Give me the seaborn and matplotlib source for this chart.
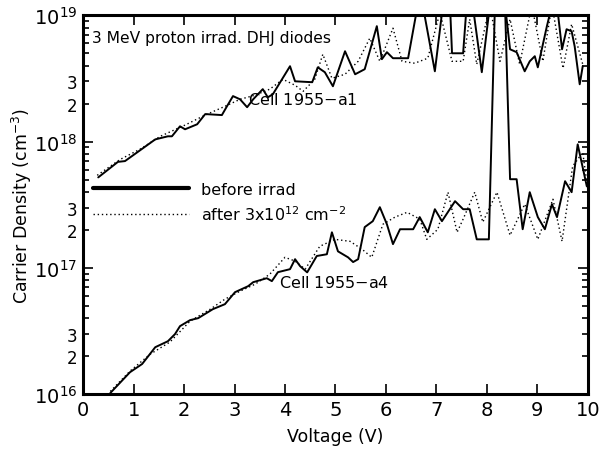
import numpy as np
import pandas as pd
import matplotlib
matplotlib.use("Agg")
import matplotlib.pyplot as plt
import matplotlib.ticker as mticker
import seaborn as sns

# Cell 1955-a1, before irradiation
volt_a1_before = [0.30, 0.69, 0.83, 1.07, 1.43, 1.68, 1.76, 1.92, 2.02, 2.26, 2.42, 2.75,
                  2.85, 2.97, 3.11, 3.25, 3.37, 3.56, 3.66, 3.76, 4.10, 4.20, 4.54, 4.65,
                  4.79, 4.95, 5.19, 5.39, 5.58, 5.82, 5.92, 6.02, 6.14, 6.44, 6.63, 6.73,
                  6.97, 7.13, 7.27, 7.31, 7.53, 7.60, 7.72, 7.90, 8.06, 8.36, 8.46, 8.59,
                  8.75, 8.85, 8.95, 9.01, 9.19, 9.29, 9.39, 9.49, 9.58, 9.68, 9.74, 9.84, 9.90]
dens_a1_before = [5.2e17, 6.9e17, 7.0e17, 8.2e17, 1.04e18, 1.10e18, 1.10e18, 1.32e18, 1.25e18,
                  1.37e18, 1.65e18, 1.62e18, 1.90e18, 2.29e18, 2.16e18, 1.87e18, 2.16e18,
                  2.60e18, 2.24e18, 2.37e18, 3.95e18, 3.0e18, 2.95e18, 3.87e18, 3.54e18,
                  2.74e18, 5.19e18, 3.41e18, 3.74e18, 8.2e18, 4.49e18, 5.10e18, 4.57e18,
                  4.57e18, 1.2e19, 1.2e19, 3.6e18, 1.2e19, 1.2e19, 5.0e18, 5.0e18, 1.2e19,
                  1.2e19, 3.54e18, 1.2e19, 1.2e19, 5.38e18, 5.1e18, 3.6e18, 4.32e18, 4.74e18,
                  3.87e18, 8.2e18, 1.2e19, 1.2e19, 5.38e18, 7.75e18, 7.47e18, 5.68e18,
                  2.84e18, 3.95e18]

# Cell 1955-a1, after 3x10^12 cm^-2
volt_a1_after = [0.28, 0.73, 1.13, 1.53, 2.02, 2.42, 2.81, 3.11, 3.41, 3.70, 3.96, 4.20,
                 4.36, 4.59, 4.75, 4.93, 5.19, 5.45, 5.68, 5.88, 6.14, 6.32, 6.57, 6.83,
                 7.07, 7.31, 7.53, 7.66, 7.80, 8.06, 8.26, 8.46, 8.65, 8.89, 9.11, 9.29,
                 9.51, 9.68, 9.90]
dens_a1_after = [5.4e17, 7.2e17, 8.7e17, 1.10e18, 1.35e18, 1.62e18, 1.90e18, 2.16e18, 2.33e18,
                 2.60e18, 3.11e18, 2.79e18, 2.50e18, 3.11e18, 4.91e18, 3.17e18, 3.41e18,
                 4.32e18, 6.58e18, 4.32e18, 7.9e18, 4.32e18, 4.17e18, 4.57e18, 1.05e19,
                 4.32e18, 4.32e18, 9.3e18, 4.09e18, 1.2e19, 4.32e18, 9.3e18, 4.09e18,
                 1.2e19, 4.32e18, 1.2e19, 3.8e18, 8.5e18, 4.09e18]

# Cell 1955-a4, before irradiation
volt_a4_before = [0.54, 0.93, 1.17, 1.43, 1.68, 1.82, 1.92, 2.12, 2.28, 2.57, 2.81, 3.01,
                  3.27, 3.37, 3.64, 3.74, 3.86, 4.10, 4.20, 4.30, 4.44, 4.63, 4.83, 4.93,
                  5.05, 5.25, 5.35, 5.45, 5.58, 5.74, 5.88, 6.02, 6.14, 6.28, 6.54, 6.67,
                  6.83, 6.97, 7.11, 7.37, 7.53, 7.66, 7.80, 8.04, 8.16, 8.36, 8.46, 8.59,
                  8.71, 8.85, 9.01, 9.15, 9.29, 9.39, 9.55, 9.68, 9.80, 9.98]
dens_a4_before = [1.02e16, 1.49e16, 1.73e16, 2.35e16, 2.62e16, 2.98e16, 3.45e16, 3.85e16,
                  3.99e16, 4.70e16, 5.15e16, 6.41e16, 7.15e16, 7.69e16, 8.27e16, 7.84e16,
                  9.23e16, 9.75e16, 1.17e17, 1.03e17, 9.2e16, 1.24e17, 1.28e17, 1.91e17,
                  1.35e17, 1.21e17, 1.11e17, 1.17e17, 2.10e17, 2.34e17, 3.02e17, 2.21e17,
                  1.54e17, 2.02e17, 2.02e17, 2.52e17, 1.91e17, 2.91e17, 2.34e17, 3.37e17,
                  2.91e17, 2.91e17, 1.68e17, 1.68e17, 1.2e19, 1.2e19, 5.03e17, 5.03e17,
                  2.02e17, 3.97e17, 2.52e17, 2.02e17, 3.19e17, 2.52e17, 4.85e17, 3.97e17,
                  9.5e17, 4.43e17]

# Cell 1955-a4, after 3x10^12 cm^-2
volt_a4_after = [0.54, 0.93, 1.33, 1.72, 2.12, 2.52, 2.81, 3.11, 3.41, 3.70, 4.00, 4.20,
                 4.40, 4.69, 4.99, 5.29, 5.53, 5.72, 5.94, 6.18, 6.42, 6.67, 6.81, 7.03,
                 7.23, 7.41, 7.53, 7.76, 7.92, 8.20, 8.46, 8.75, 9.01, 9.31, 9.49, 9.70,
                 9.90, 10.0]
dens_a4_after = [1.05e16, 1.52e16, 2.07e16, 2.58e16, 3.78e16, 4.70e16, 5.64e16, 6.53e16,
                 7.42e16, 8.9e16, 1.21e17, 1.13e17, 9.75e16, 1.48e17, 1.68e17, 1.62e17,
                 1.40e17, 1.21e17, 2.21e17, 2.52e17, 2.75e17, 2.43e17, 1.68e17, 2.02e17,
                 3.97e17, 1.91e17, 2.43e17, 3.97e17, 2.30e17, 3.97e17, 1.81e17, 3.19e17,
                 1.68e17, 3.49e17, 1.62e17, 6.37e17, 8.2e17, 4.19e17]

x_ticks = list(range(0, 11))
y_decades = [1e16, 1e17, 1e18, 1e19]
y_decade_labels = ["$10^{16}$", "$10^{17}$", "$10^{18}$", "$10^{19}$"]

sns.set_style("ticks")
plt.rcParams["font.family"] = ["DejaVu Sans"]
plt.rcParams["mathtext.fontset"] = "dejavusans"
for key in ["text.color", "axes.labelcolor", "xtick.color", "ytick.color", "axes.edgecolor"]:
    plt.rcParams[key] = "black"

fig = plt.figure(figsize=(6.11, 4.52), dpi=100)
ax = fig.add_axes([0.136, 0.126, 0.826, 0.838])

dotted = (0, (1, 2))
sns.lineplot(x=volt_a1_before, y=dens_a1_before, ax=ax, color="black", lw=1.4,
             estimator=None, sort=False, label="before irrad")
sns.lineplot(x=volt_a1_after, y=dens_a1_after, ax=ax, color="black", lw=1.0,
             linestyle=dotted, estimator=None, sort=False,
             label="after 3x10$^{12}$ cm$^{-2}$")
sns.lineplot(x=volt_a4_before, y=dens_a4_before, ax=ax, color="black", lw=1.4,
             estimator=None, sort=False, legend=False)
sns.lineplot(x=volt_a4_after, y=dens_a4_after, ax=ax, color="black", lw=1.0,
             linestyle=dotted, estimator=None, sort=False, legend=False)

ax.set_yscale("log")
ax.set_xlim(0, 10)
ax.set_ylim(1e16, 1e19)

ax.xaxis.set_major_locator(mticker.FixedLocator(x_ticks))
ax.yaxis.set_major_locator(mticker.FixedLocator(y_decades))
ax.yaxis.set_major_formatter(mticker.FixedFormatter(y_decade_labels))
ax.yaxis.set_minor_locator(mticker.LogLocator(base=10, subs=np.arange(2, 10)))


def minor_fmt(v, pos):
    m = round(v / 10 ** np.floor(np.log10(v) + 1e-9))
    return str(m) if m in (2, 3) else ""


ax.yaxis.set_minor_formatter(mticker.FuncFormatter(minor_fmt))

ax.tick_params(which="both", direction="in", top=True, right=True, width=1.2,
               colors="black")
ax.tick_params(which="major", length=7, labelsize=14, pad=4)
ax.tick_params(which="minor", length=4, labelsize=12, pad=4)
for s in ax.spines.values():
    s.set_linewidth(2.2)
    s.set_color("black")

ax.set_xlabel("Voltage (V)", fontsize=12.5, labelpad=6)
ax.set_ylabel("Carrier Density (cm$^{-3}$)", fontsize=12.5)
ax.yaxis.set_label_coords(-0.097, 0.5)

ax.text(0.18, 6.7e18, "3 MeV proton irrad. DHJ diodes", fontsize=11.2, va="center")
ax.text(3.27, 2.16e18, "Cell 1955$-$a1", fontsize=11.5, va="center")
ax.text(3.88, 7.7e16, "Cell 1955$-$a4", fontsize=11.5, va="center")

leg = ax.legend(loc="upper left", bbox_to_anchor=(0.0, 0.585), frameon=False,
                fontsize=11.5, handlelength=6.0, handletextpad=0.8, labelspacing=0.45,
                borderaxespad=0.2)
leg.get_lines()[0].set_linewidth(3.0)

fig.savefig("out.png", dpi=100)
